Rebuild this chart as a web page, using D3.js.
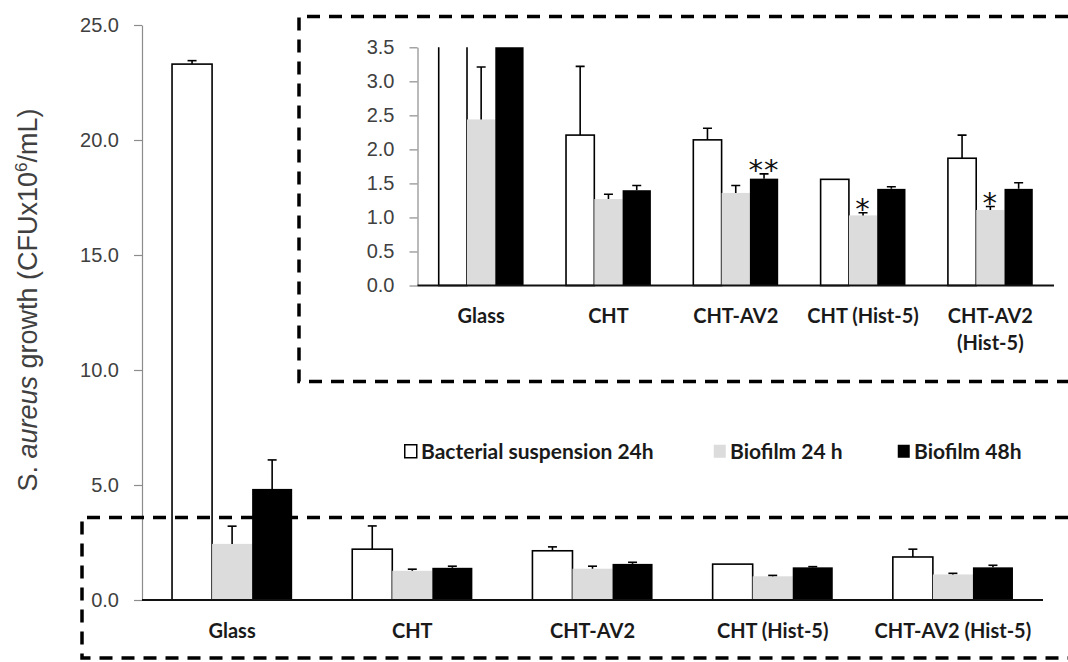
<!DOCTYPE html>
<html>
<head>
<meta charset="utf-8">
<script src="https://cdn.jsdelivr.net/npm/d3@7"></script>
<style>
  body { margin: 0; background: #fff; }
  svg { display: block; }
  .tick text { font-family: "Liberation Sans", Arial, sans-serif; font-size: 20px; fill: #404040; }
  .cat { font-family: Lato, "Liberation Sans", sans-serif; font-weight: bold; font-size: 20px; fill: #1a1a1a; }
</style>
</head>
<body>
<svg id="chart" width="1068" height="662"></svg>
<script>
// data
const categories = ['Glass', 'CHT', 'CHT-AV2', 'CHT (Hist-5)', 'CHT-AV2 (Hist-5)'];
const insetLabels = [['Glass'], ['CHT'], ['CHT-AV2'], ['CHT (Hist-5)'], ['CHT-AV2', '(Hist-5)']];
const seriesNames = ['Bacterial suspension 24h', 'Biofilm 24 h', 'Biofilm 48h'];
const suspension24 = [23.3, 2.21, 2.14, 1.56, 1.87];
const biofilm24 = [2.44, 1.27, 1.36, 1.03, 1.11];
const biofilm48 = [4.83, 1.40, 1.57, 1.42, 1.42];
const suspension24Err = [0.15, 1.01, 0.17, 0, 0.34];
const biofilm24Err = [0.77, 0.07, 0.11, 0.04, 0.05];
const biofilm48Err = [1.26, 0.07, 0.07, 0.03, 0.09];
const mainTicks = [0, 5, 10, 15, 20, 25];
const insetTicks = [0, 0.5, 1, 1.5, 2, 2.5, 3, 3.5];
const marks = [
    { cat: 'CHT-AV2', series: 2, text: '**' },
    { cat: 'CHT (Hist-5)', series: 1, text: '*' },
    { cat: 'CHT-AV2 (Hist-5)', series: 1, text: '*' }
];

const fills = ['#ffffff', '#dcdcdc', '#000000'];
const values = [suspension24, biofilm24, biofilm48];
const errors = [suspension24Err, biofilm24Err, biofilm48Err];

const rows = [];
categories.forEach((c, i) => {
    seriesNames.forEach((s, j) => {
        rows.push({ cat: c, series: j, value: values[j][i], err: errors[j][i] });
    });
});

const svg = d3.select('#chart');

function drawPanel(g, x, y, ticks, clip) {
    const xs = d3.scaleBand().domain(d3.range(seriesNames.length)).range([0, x.bandwidth()]);

    const yAxis = g.append('g')
        .attr('transform', 'translate(' + x.range()[0] + ',0)')
        .call(d3.axisLeft(y).tickValues(ticks).tickFormat(d3.format('.1f')).tickSize(8).tickSizeOuter(0).tickPadding(15));
    yAxis.select('.domain').attr('stroke', '#8c8c8c').attr('stroke-width', 1.2);
    yAxis.selectAll('.tick line').attr('stroke', '#8c8c8c').attr('stroke-width', 1.2);

    const plot = g.append('g');
    if (clip) plot.attr('clip-path', 'url(#' + clip + ')');

    const bars = plot.selectAll('g.bar')
        .data(rows)
        .enter()
        .append('g')
        .attr('class', 'bar')
        .attr('transform', (d) => 'translate(' + (x(d.cat) + xs(d.series)) + ',0)');

    bars.append('rect')
        .attr('x', 0)
        .attr('y', (d) => y(d.value))
        .attr('width', xs.bandwidth())
        .attr('height', (d) => y(0) - y(d.value))
        .attr('fill', (d) => fills[d.series])
        .attr('stroke', (d) => d.series === 0 ? '#000' : 'none')
        .attr('stroke-width', 1.6);

    const eb = bars.filter((d) => d.err > 0);
    eb.append('line')
        .attr('x1', xs.bandwidth() / 2).attr('x2', xs.bandwidth() / 2)
        .attr('y1', (d) => y(d.value)).attr('y2', (d) => y(d.value + d.err))
        .attr('stroke', '#000').attr('stroke-width', 1.6);
    eb.append('line')
        .attr('x1', xs.bandwidth() / 2 - 4.5).attr('x2', xs.bandwidth() / 2 + 4.5)
        .attr('y1', (d) => y(d.value + d.err)).attr('y2', (d) => y(d.value + d.err))
        .attr('stroke', '#000').attr('stroke-width', 1.6);

    g.append('line')
        .attr('x1', x.range()[0]).attr('x2', x.range()[1])
        .attr('y1', y(0)).attr('y2', y(0))
        .attr('stroke', '#111').attr('stroke-width', 2);

    return xs;
}

// main chart
const xMain = d3.scaleBand().domain(categories).range([142, 1043]).paddingInner(1 / 3).paddingOuter(1 / 6);
const yMain = d3.scaleLinear().domain([0, 25]).range([600, 25]);
const mainG = svg.append('g');
drawPanel(mainG, xMain, yMain, mainTicks, null);

mainG.selectAll('text.cat')
    .data(categories)
    .enter()
    .append('text')
    .attr('class', 'cat')
    .attr('x', (d) => xMain(d) + xMain.bandwidth() / 2)
    .attr('y', 638)
    .attr('text-anchor', 'middle')
    .text((d) => d);

// inset chart
const xIn = d3.scaleBand().domain(categories).range([417.5, 1054]).paddingInner(1 / 3).paddingOuter(1 / 6);
const yIn = d3.scaleLinear().domain([0, 3.5]).range([285.5, 47.3]);
svg.append('defs').append('clipPath').attr('id', 'insetClip')
    .append('rect')
    .attr('x', 417.5).attr('y', yIn(3.5))
    .attr('width', 1054 - 417.5).attr('height', yIn(0) - yIn(3.5) + 2);
const inG = svg.append('g');
const xsIn = drawPanel(inG, xIn, yIn, insetTicks, 'insetClip');

const labelG = inG.selectAll('text.cat')
    .data(categories)
    .enter()
    .append('text')
    .attr('class', 'cat')
    .attr('text-anchor', 'middle')
    .attr('x', (d) => xIn(d) + xIn.bandwidth() / 2)
    .attr('y', 323);
labelG.selectAll('tspan')
    .data((d, i) => insetLabels[i].map((t) => ({ t: t, x: xIn(d) + xIn.bandwidth() / 2 })))
    .enter()
    .append('tspan')
    .attr('x', (d) => d.x)
    .attr('dy', (d, i) => i === 0 ? 0 : 27)
    .text((d) => d.t);

// significance marks
inG.selectAll('text.sig')
    .data(marks)
    .enter()
    .append('text')
    .attr('class', 'sig')
    .attr('text-anchor', 'middle')
    .attr('x', (d) => xIn(d.cat) + xsIn(d.series) + xsIn.bandwidth() / 2)
    .attr('y', (d) => {
        const i = categories.indexOf(d.cat);
        return yIn(values[d.series][i] + errors[d.series][i]) + 6;
    })
    .attr('font-family', '"DejaVu Sans", sans-serif')
    .attr('font-size', 29)
    .attr('letter-spacing', 1)
    .attr('fill', '#111')
    .text((d) => d.text);

// legend
const legendX = [404, 713, 897];
const lg = svg.append('g').selectAll('g')
    .data(seriesNames)
    .enter()
    .append('g')
    .attr('transform', (d, i) => 'translate(' + legendX[i] + ',444)');
lg.append('rect')
    .attr('x', 0.75).attr('y', 0.75)
    .attr('width', 12).attr('height', 13)
    .attr('fill', (d, i) => fills[i])
    .attr('stroke', (d, i) => i === 0 ? '#000' : 'none')
    .attr('stroke-width', 1.5);
lg.append('text')
    .attr('class', 'cat')
    .attr('x', 17)
    .attr('y', 14.5)
    .style('font-size', '21px')
    .text((d) => d);

// y title
const title = svg.append('text')
    .attr('transform', 'translate(37,300) rotate(-90)')
    .attr('text-anchor', 'middle')
    .attr('font-family', '"Liberation Sans", Arial, sans-serif')
    .attr('font-size', 27)
    .attr('fill', '#404040');
title.append('tspan').text('S. ');
title.append('tspan').attr('font-style', 'italic').text('aureus');
title.append('tspan').text(' growth (CFUx10');
title.append('tspan').attr('font-size', 17).attr('dy', -10).text('6');
title.append('tspan').attr('dy', 10).text('/mL)');

// dashed zoom boxes (open on the right)
const dash = '13 9';
svg.append('path')
    .attr('d', 'M1068,16.5 H299 V381.5 H1068')
    .attr('fill', 'none').attr('stroke', '#000').attr('stroke-width', 3.5)
    .attr('stroke-dasharray', dash);
svg.append('path')
    .attr('d', 'M1068,517.5 H82 V658 H1068')
    .attr('fill', 'none').attr('stroke', '#000').attr('stroke-width', 3.5)
    .attr('stroke-dasharray', dash);
</script>
</body>
</html>
